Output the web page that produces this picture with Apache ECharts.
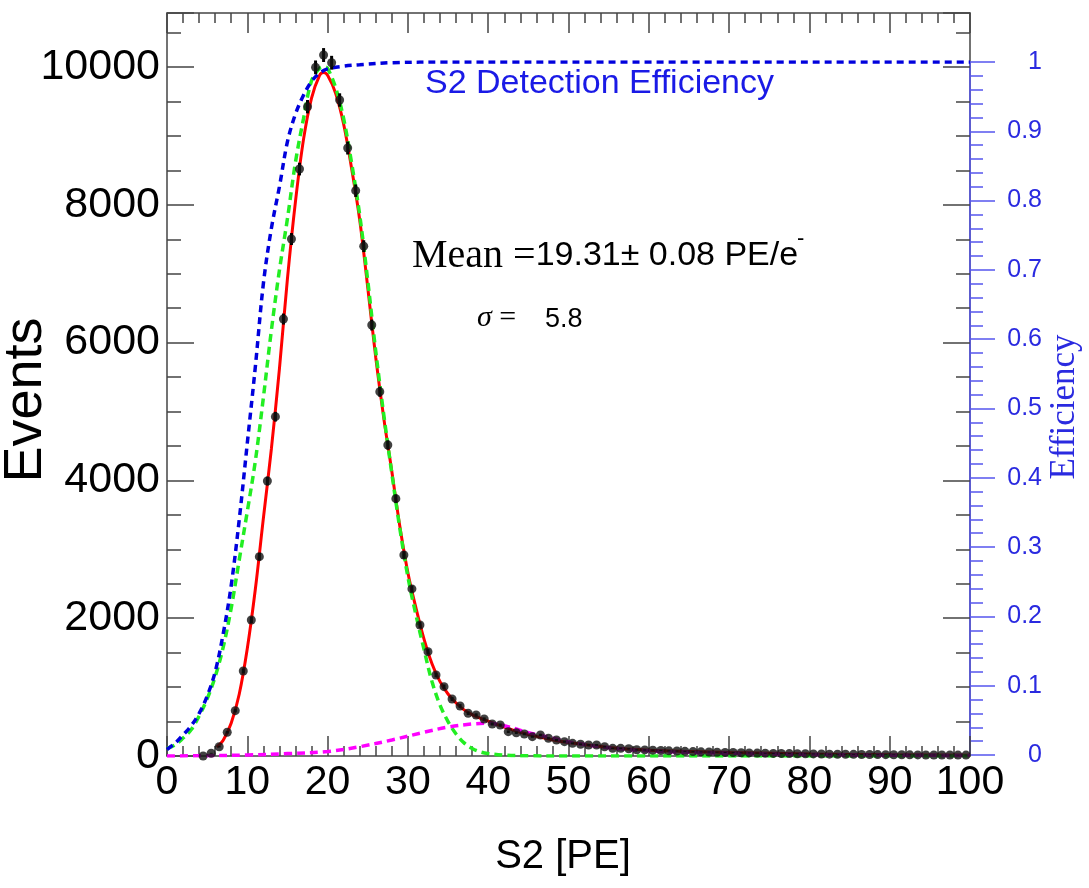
<!DOCTYPE html>
<html>
<head>
<meta charset="utf-8">
<script src="https://cdn.jsdelivr.net/npm/echarts@6/dist/echarts.min.js"></script>
<style>
html,body{margin:0;padding:0;background:#fff;}
#c{width:1089px;height:888px;}
</style>
</head>
<body>
<div id="c"></div>
<script>
// ---- Data ----
const binCenters = [4.5,5.5,6.5,7.5,8.5,9.5,10.5,11.5,12.5,13.5,14.5,15.5,16.5,17.5,18.5,19.5,20.5,21.5,22.5,23.5,24.5,25.5,26.5,27.5,28.5,29.5,30.5,31.5,32.5,33.5,34.5,35.5,36.5,37.5,38.5,39.5,40.5,41.5,42.5,43.5,44.5,45.5,46.5,47.5,48.5,49.5,50.5,51.5,52.5,53.5,54.5,55.5,56.5,57.5,58.5,59.5,60.5,61.5,62.5,63.5,64.5,65.5,66.5,67.5,68.5,69.5,70.5,71.5,72.5,73.5,74.5,75.5,76.5,77.5,78.5,79.5,80.5,81.5,82.5,83.5,84.5,85.5,86.5,87.5,88.5,89.5,90.5,91.5,92.5,93.5,94.5,95.5,96.5,97.5,98.5,99.5];
const eventCounts = [0,40,135,344,658,1234,1974,2893,3991,4925,6342,7503,8519,9424,9995,10174,10062,9521,8824,8205,7400,6255,5287,4514,3735,2917,2425,1901,1514,1176,1006,827,726,620,595,537,464,450,353,338,319,281,305,257,232,208,184,170,160,160,135,111,111,105,90,88,85,80,75,72,68,64,60,58,55,52,50,47,45,42,40,38,36,35,33,32,30,29,27,26,25,24,22,21,20,19,18,18,17,16,15,15,14,14,13,13];

// Fit (red, solid)
const fitX = [6.2,7,8,9,10,11,12,13,14,15,16,17,18,19,19.5,20,21,22,23,24,25,26,27,28,29,30,31,32,33,34,35,36,37,38,39,40,42,44,46,48,50,55,60,65,70,80,90,100];
const fitY = [130,230,480,900,1560,2420,3450,4460,5620,6930,8050,8950,9550,9880,9920,9880,9620,9170,8520,7780,6800,5780,4900,4130,3330,2660,2150,1700,1340,1080,900,770,670,600,550,505,420,345,285,235,195,125,85,65,50,30,18,12];

// Main Gaussian component (green, dashed)
const gausX = [0,1,2,3,4,5,6,7,8,9,10,11,12,13,14,15,16,17,18,19,19.6,20,21,22,23,24,25,26,27,28,29,30,31,32,33,34,35,36,37,38,39,40,42,45,50,100];
const gausY = [110,160,260,380,580,830,1150,1580,2150,2850,3550,4280,5200,6180,7050,7800,8620,9250,9800,9980,10000,9980,9700,9250,8600,7850,6900,5870,4950,4100,3300,2600,2050,1550,1080,740,500,320,190,110,60,35,12,3,0,0];

// Tail component (magenta, dashed)
const tailX = [0,5,10,15,20,24,28,32,35,38,40,42,45,48,50,55,60,70,80,90,100];
const tailY = [0,5,15,35,65,135,232,345,420,465,474,440,340,260,205,120,75,40,22,12,8];

// S2 detection efficiency (blue, dashed, right axis)
const effX = [0,1,2,3,4,5,6,7,8,9,10,11,12,13,14,15,16,17,18,19,20,22,24,28,35,100];
const effY = [0.008,0.017,0.029,0.042,0.06,0.085,0.12,0.175,0.245,0.34,0.45,0.56,0.68,0.76,0.82,0.885,0.925,0.952,0.972,0.984,0.99,0.994,0.996,0.999,1.0,1.0];

const xTicks = {min:0, max:100, interval:10};
const eventTicks = {min:0, max:10784, interval:2000};
const effTicks = {min:0, max:1, interval:0.1};

const zip = (a,b)=>a.map((v,i)=>[v,b[i]]);

const chart = echarts.init(document.getElementById('c'), null, {renderer:'canvas'});
const SANS = '"Liberation Sans", Arial, sans-serif';
const SERIF = '"Liberation Serif", "Times New Roman", serif';
const frame = '#444';

const option = {
  animation:false,
  backgroundColor:'#fff',
  grid:[
    {left:167, right:119, top:13, bottom:132, containLabel:false, outerBoundsMode:'none'},
    {left:167, right:119, top:62, bottom:133, containLabel:false, outerBoundsMode:'none'}
  ],
  xAxis:[
    {gridIndex:0, type:'value', position:'bottom', min:xTicks.min, max:xTicks.max, interval:xTicks.interval,
     axisLine:{show:true, onZero:false, lineStyle:{color:frame, width:1.5}},
     axisTick:{show:true, inside:true, length:20, lineStyle:{color:frame, width:1.5}},
     minorTick:{show:true, splitNumber:5, length:10, lineStyle:{color:frame, width:1.5}},
     axisLabel:{fontFamily:SANS, fontSize:41, color:'#000', margin:6, formatter:(v)=>String(v)},
     splitLine:{show:false}},
    {gridIndex:0, type:'value', position:'top', min:xTicks.min, max:xTicks.max, interval:xTicks.interval,
     axisLine:{show:true, onZero:false, lineStyle:{color:frame, width:1.5}},
     axisTick:{show:true, inside:true, length:20, lineStyle:{color:frame, width:1.5}},
     minorTick:{show:true, splitNumber:5, length:10, lineStyle:{color:frame, width:1.5}},
     axisLabel:{show:false}, splitLine:{show:false}},
    {gridIndex:1, type:'value', min:xTicks.min, max:xTicks.max, show:false}
  ],
  yAxis:[
    {gridIndex:0, type:'value', position:'left', min:eventTicks.min, max:eventTicks.max, interval:eventTicks.interval,
     axisLine:{show:true, onZero:false, lineStyle:{color:frame, width:1.5}},
     axisTick:{show:true, inside:true, length:27, lineStyle:{color:frame, width:1.5}},
     minorTick:{show:true, splitNumber:4, length:14, lineStyle:{color:frame, width:1.5}},
     axisLabel:{fontFamily:SANS, fontSize:43, color:'#000', margin:7, showMaxLabel:false, formatter:(v)=>String(v)},
     splitLine:{show:false}},
    {gridIndex:0, type:'value', position:'right', min:eventTicks.min, max:eventTicks.max, interval:eventTicks.interval,
     axisLine:{show:true, onZero:false, lineStyle:{color:frame, width:1.5}},
     axisTick:{show:true, inside:true, length:27, lineStyle:{color:frame, width:1.5}},
     minorTick:{show:true, splitNumber:4, length:14, lineStyle:{color:frame, width:1.5}},
     axisLabel:{show:false}, splitLine:{show:false}},
    {gridIndex:1, type:'value', position:'right', min:effTicks.min, max:effTicks.max, interval:effTicks.interval,
     axisLine:{show:true, onZero:false, lineStyle:{color:'#5555ee', width:1.5}},
     axisTick:{show:true, inside:false, length:25, lineStyle:{color:'#5555ee', width:1.5}},
     minorTick:{show:true, splitNumber:5, length:13, lineStyle:{color:'#5555ee', width:1.5}},
     axisLabel:{fontFamily:SANS, fontSize:25, color:'#2a2ae0', align:'right', margin:72,
       formatter:(v)=>String(Math.round(v*10)/10)},
     splitLine:{show:false}}
  ],
  series:[
    {type:'line', name:'fit', xAxisIndex:0, yAxisIndex:0, data:zip(fitX,fitY), showSymbol:false,
     smooth:0.35, lineStyle:{color:'#ff0000', width:3}, z:2},
    {type:'line', name:'gaus', xAxisIndex:0, yAxisIndex:0, data:zip(gausX,gausY), showSymbol:false,
     smooth:0.35, lineStyle:{color:'#22ee22', width:3.5, type:[8,5]}, z:3},
    {type:'line', name:'eff', xAxisIndex:2, yAxisIndex:2, data:zip(effX,effY), showSymbol:false,
     smooth:0.35, lineStyle:{color:'#0000dd', width:3.5, type:[7,5]}, z:4},
    {type:'line', name:'tail', xAxisIndex:0, yAxisIndex:0, data:zip(tailX,tailY), showSymbol:false,
     smooth:0.35, lineStyle:{color:'#ff00ff', width:3.5, type:[8,5]}, z:5},
    {type:'custom', name:'err', xAxisIndex:0, yAxisIndex:0, data:zip(binCenters,eventCounts), z:6,
     renderItem:(params, api)=>{
       const x = api.value(0), y = api.value(1), e = Math.sqrt(y);
       const p1 = api.coord([x, y+e]), p2 = api.coord([x, y-e]);
       return {type:'line', shape:{x1:p1[0], y1:p1[1], x2:p2[0], y2:p2[1]}, style:{stroke:'#000', lineWidth:3}};
     }},
    {type:'scatter', name:'data', xAxisIndex:0, yAxisIndex:0, data:zip(binCenters,eventCounts),
     symbol:'circle', symbolSize:9, itemStyle:{color:'#111'}, z:7}
  ],
  graphic:[
    {type:'text', x:26, y:400, rotation:Math.PI/2, style:{text:'Events', fontFamily:SANS, fontSize:54, fill:'#000', align:'center', verticalAlign:'middle'}},
    {type:'text', x:563, y:857, style:{text:'S2 [PE]', fontFamily:SANS, fontSize:40, fill:'#000', align:'center', verticalAlign:'middle'}},
    {type:'text', x:1065, y:407, rotation:Math.PI/2, style:{text:'Efficiency', fontFamily:SERIF, fontSize:35, fill:'#2a2ae0', align:'center', verticalAlign:'middle'}},
    {type:'text', left:425, top:67, style:{text:'S2 Detection Efficiency', fontFamily:SANS, fontSize:34, fill:'#1a1ae6'}},
    {type:'text', left:412, top:236, style:{
      text:'{a|Mean =}{b|19.31± 0.08 PE/e}',
      rich:{a:{fontFamily:SERIF, fontSize:40, fill:'#000'}, b:{fontFamily:SANS, fontSize:34, fill:'#000'}}}},
    {type:'text', left:797, top:228, style:{text:'-', fontFamily:SANS, fontSize:22, fill:'#000'}},
    {type:'text', left:477, top:303, style:{
      text:'{a|σ}{b| =}',
      rich:{a:{fontFamily:SERIF, fontSize:30, fontStyle:'italic', fill:'#000'}, b:{fontFamily:SERIF, fontSize:30, fill:'#000'}}}},
    {type:'text', left:545, top:306, style:{text:'5.8', fontFamily:SANS, fontSize:27, fill:'#000'}}
  ]
};
chart.setOption(option);
</script>
</body>
</html>
